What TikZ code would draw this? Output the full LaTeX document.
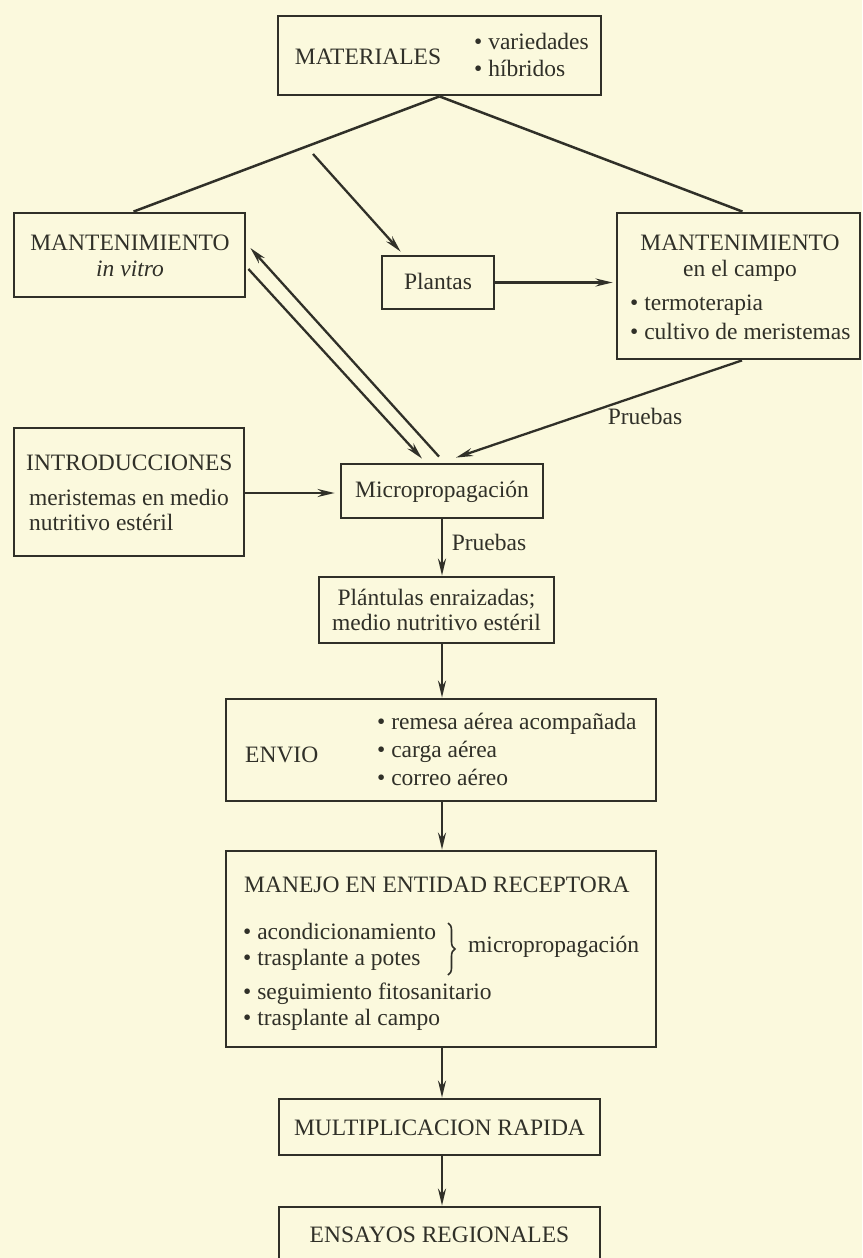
\documentclass[tikz,border=0pt]{standalone}
\usepackage{fontspec}
\setmainfont{Liberation Serif}
\usetikzlibrary{arrows.meta,decorations.pathreplacing,calc}
\definecolor{bg}{RGB}{251,249,221}
\definecolor{ink}{RGB}{48,48,40}
\begin{document}
\begin{tikzpicture}[x=1pt,y=-1pt,
  box/.style={draw=ink, line width=2.8pt, inner sep=0pt},
  txt/.style={text=ink, inner sep=0pt, font=\fontsize{23.5}{27}\selectfont},
  ln/.style={draw=ink, line width=2.5pt},
  ar/.style={draw=ink, line width=2.3pt, -{Stealth[length=17pt,width=8pt]}}]
\useasboundingbox (0,0) rectangle (862,1258);
\fill[bg] (0,0) rectangle (862,1258);
% boxes
\node[box, minimum width=323pt, minimum height=79pt] (mat) at (439.5,55.5) {};
\node[box, minimum width=231pt, minimum height=84pt] (vit) at (129.5,255) {};
\node[box, minimum width=112pt, minimum height=53pt] (pla) at (438,282.5) {};
\node[box, minimum width=243pt, minimum height=146pt] (cam) at (738.5,286) {};
\node[box, minimum width=230pt, minimum height=128pt] (intro) at (129,492) {};
\node[box, minimum width=202pt, minimum height=54pt] (micro) at (442,491) {};
\node[box, minimum width=235pt, minimum height=66pt] (plt) at (436.5,610) {};
\node[box, minimum width=430pt, minimum height=102pt] (env) at (441,750) {};
\node[box, minimum width=430pt, minimum height=196pt] (man) at (441,949) {};
\node[box, minimum width=321pt, minimum height=56pt] (mul) at (439.5,1127) {};
\node[box, minimum width=321pt, minimum height=56pt] (ens) at (439.5,1235) {};
% texts
\node[txt, anchor=mid] (tmat) at (368,62) {MATERIALES};
\node[txt, anchor=mid west] (tmat1) at (474,47) {\textbullet\ variedades};
\node[txt, anchor=mid west] (tmat2) at (474,74) {\textbullet\ híbridos};
\node[txt, anchor=mid] (tvit1) at (130,248) {MANTENIMIENTO};
\node[txt, anchor=mid] (tvit2) at (130,274) {\itshape in vitro};
\node[txt, anchor=mid] (tpla) at (438,287) {Plantas};
\node[txt, anchor=mid] (tcam1) at (740,248) {MANTENIMIENTO};
\node[txt, anchor=mid] (tcam2) at (740,274) {en el campo};
\node[txt, anchor=mid west] (tcam3) at (630,308) {\textbullet\ termoterapia};
\node[txt, anchor=mid west] (tcam4) at (630,337) {\textbullet\ cultivo de meristemas};
\node[txt, anchor=mid west] (tint1) at (26,468) {INTRODUCCIONES};
\node[txt, anchor=mid west] (tint2) at (29,503) {meristemas en medio};
\node[txt, anchor=mid west] (tint3) at (29,528) {nutritivo estéril};
\node[txt, anchor=mid] (tmic) at (442,495) {Micropropagación};
\node[txt, anchor=mid] (tplt1) at (436.5,603) {Plántulas enraizadas;};
\node[txt, anchor=mid] (tplt2) at (436.5,628) {medio nutritivo estéril};
\node[txt, anchor=mid west] (tenv) at (245,760) {ENVIO};
\node[txt, anchor=mid west] (tenv1) at (377,727) {\textbullet\ remesa aérea acompañada};
\node[txt, anchor=mid west] (tenv2) at (377,755) {\textbullet\ carga aérea};
\node[txt, anchor=mid west] (tenv3) at (377,783) {\textbullet\ correo aéreo};
\node[txt, anchor=mid west] (tman) at (244,890) {MANEJO EN ENTIDAD RECEPTORA};
\node[txt, anchor=mid west] (tman1) at (243,937) {\textbullet\ acondicionamiento};
\node[txt, anchor=mid west] (tman2) at (243,963) {\textbullet\ trasplante a potes};
\node[txt, anchor=mid west] (tman3) at (243,997) {\textbullet\ seguimiento fitosanitario};
\node[txt, anchor=mid west] (tman4) at (243,1023) {\textbullet\ trasplante al campo};
\node[txt, anchor=mid west] (tman5) at (468,950) {micropropagación};
\node[txt, anchor=mid] (tmul) at (439.5,1133) {MULTIPLICACION RAPIDA};
\node[txt, anchor=mid] (tens) at (439.5,1240) {ENSAYOS REGIONALES};
\node[txt, anchor=mid] (lp1) at (645,422) {Pruebas};
\node[txt, anchor=mid] (lp2) at (489,548) {Pruebas};
% brace
\coordinate (b1) at (448,923);
\coordinate (b2) at (448,975);
\draw[draw=ink, line width=1.6pt, decorate, decoration={brace, amplitude=7pt}] (b1) -- (b2);
% connectors
\draw[ln] (mat.south) -- ([xshift=4pt]vit.north);
\draw[ln] (mat.south) -- ([xshift=4pt]cam.north);
\coordinate (ps) at (313,154);
\draw[ar] (ps) -- ([xshift=20pt,yshift=3pt]pla.north west);
\draw[ar] (pla.east) -- ([xshift=-3pt]pla.east -| cam.west);
\draw[ar] ([xshift=3.5pt]cam.south) -- ([xshift=14pt,yshift=5pt]micro.north);
\draw[ar] ([xshift=-3pt,yshift=6pt]micro.north) -- ([xshift=4pt,yshift=7pt]vit.east);
\draw[ar] ([xshift=2pt,yshift=-14pt]vit.east) -- ([xshift=-20pt,yshift=4pt]micro.north);
\draw[ar, shorten >=5pt] ([yshift=-1pt]intro.east) -- ([yshift=-1pt]intro.east -| micro.west);
\draw[ar] (micro.south) -- (micro.south |- plt.north);
\draw[ar] (plt.south -| micro.south) -- (env.north -| micro.south);
\draw[ar] (env.south -| micro.south) -- (man.north -| micro.south);
\draw[ar] (man.south -| micro.south) -- (mul.north -| micro.south);
\draw[ar] (mul.south -| micro.south) -- (ens.north -| micro.south);
\end{tikzpicture}
\end{document}
